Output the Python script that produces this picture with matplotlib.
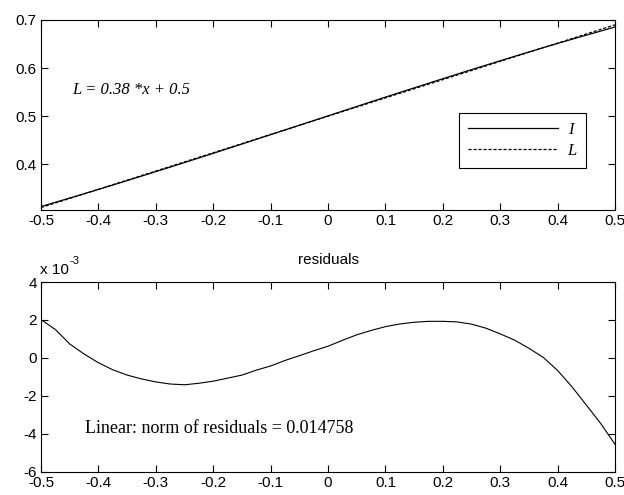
"""Linear fit of I over x, with the residuals plotted underneath (MATLAB-style look)."""

import matplotlib

matplotlib.use("Agg")
import matplotlib.pyplot as plt
import numpy as np

# ---- data ----
x_pts = [-0.500, -0.475, -0.450, -0.425, -0.400, -0.375, -0.350, -0.325, -0.300, -0.275,
         -0.250, -0.225, -0.200, -0.175, -0.150, -0.125, -0.100, -0.075, -0.050, -0.025,
         0.000, 0.025, 0.050, 0.075, 0.100, 0.125, 0.150, 0.175, 0.200, 0.225,
         0.250, 0.275, 0.300, 0.325, 0.350, 0.375, 0.400, 0.425, 0.450, 0.475, 0.500]
# residuals, in units of 1e-3
resid_e3 = [2.02, 1.50, 0.74, 0.21, -0.25, -0.62, -0.90, -1.10, -1.26, -1.37,
            -1.41, -1.33, -1.22, -1.06, -0.90, -0.64, -0.42, -0.13, 0.12, 0.38,
            0.62, 0.93, 1.22, 1.45, 1.65, 1.79, 1.88, 1.93, 1.93, 1.90,
            1.78, 1.57, 1.27, 0.94, 0.51, 0.03, -0.66, -1.52, -2.48, -3.45, -4.55]
fit_slope = 0.38
fit_icpt = 0.5
fit_x = [-0.5, 0.5]
fit_L = [0.31, 0.69]

x_ticks = [-0.5, -0.4, -0.3, -0.2, -0.1, 0, 0.1, 0.2, 0.3, 0.4, 0.5]
x_ticklabels = ["-0.5", "-0.4", "-0.3", "-0.2", "-0.1", "0", "0.1", "0.2", "0.3", "0.4", "0.5"]
top_yticks = [0.4, 0.5, 0.6, 0.7]
top_yticklabels = ["0.4", "0.5", "0.6", "0.7"]
bot_yticks = [-6, -4, -2, 0, 2, 4]
bot_yticklabels = ["-6", "-4", "-2", "0", "2", "4"]

plt.rcParams["font.family"] = ["Liberation Sans", "DejaVu Sans"]
plt.rcParams["axes.unicode_minus"] = False

x = np.array(x_pts)
I_vals = fit_slope * x + fit_icpt + np.array(resid_e3) * 1e-3


def matlab_axes(ax):
    """盒子式坐标轴，刻度朝内，四边都有。"""
    ax.tick_params(direction="in", top=True, right=True, length=5, width=0.8,
                   labelsize=11, pad=3, colors="black")
    for sp in ax.spines.values():
        sp.set_linewidth(0.8)
    ax.set_xlim(-0.5, 0.5)
    ax.set_xticks(x_ticks)
    ax.set_xticklabels(x_ticklabels)


fig = plt.figure(figsize=(6.24, 4.95), dpi=100)
fig.patch.set_facecolor("white")

# ---- top: data and linear fit ----
ax1 = fig.add_axes([0.0657, 0.5758, 0.920, 0.3838])
ax1.plot(x, I_vals, color="black", linewidth=0.9, label="I")
ax1.plot(fit_x, fit_L, color="black", linewidth=0.9, linestyle=(0, (2.5, 1.5)), label="L")
matlab_axes(ax1)
ax1.set_ylim(0.305, 0.7)
ax1.set_yticks(top_yticks)
ax1.set_yticklabels(top_yticklabels)
ax1.text(-0.445, 0.555, "L = 0.38 *x + 0.5", fontsize=12, style="italic",
         family="Liberation Serif", va="center")
leg = ax1.legend(loc="lower right", bbox_to_anchor=(0.9495, 0.221), borderaxespad=0,
                 fancybox=False, edgecolor="black", framealpha=1, handlelength=5.4,
                 handletextpad=0.6, borderpad=0.55, labelspacing=0.3,
                 prop={"family": "Liberation Serif", "style": "italic", "size": 12})
leg.get_frame().set_linewidth(0.8)

# ---- bottom: residuals ----
ax2 = fig.add_axes([0.0657, 0.0465, 0.920, 0.3838])
ax2.plot(x, resid_e3, color="black", linewidth=0.8)
matlab_axes(ax2)
ax2.set_ylim(-6, 4)
ax2.set_yticks(bot_yticks)
ax2.set_yticklabels(bot_yticklabels)
ax2.set_title("residuals", fontsize=11, pad=13)
ax2.text(-0.002, 1.025, "x 10", transform=ax2.transAxes, fontsize=11,
         ha="left", va="bottom")
ax2.text(0.049, 1.085, "-3", transform=ax2.transAxes, fontsize=8,
         ha="left", va="bottom")
ax2.text(-0.423, -3.7, "Linear: norm of residuals = 0.014758", fontsize=13,
         family="Liberation Serif", va="center")

fig.savefig("out.png", dpi=100, facecolor="white")
plt.close(fig)
